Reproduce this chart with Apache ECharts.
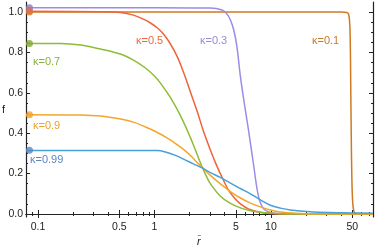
<!DOCTYPE html>
<html><head><meta charset="utf-8">
<script src="https://cdn.jsdelivr.net/npm/echarts@6/dist/echarts.min.js"></script>
<style>html,body{margin:0;padding:0;background:#fff}#c{width:377px;height:252px}</style>
</head><body><div id="c"></div>
<script>
// ---- data (r̄, f) ----
const kappaLabels = ['κ=0.1','κ=0.3','κ=0.5','κ=0.7','κ=0.9','κ=0.99'];
const k01 = [[0.079,1.0],[1,1.0],[10,1.0],[40,1.0],[45,0.998],[46.3,0.99],[47.2,0.965],[47.9,0.88],[48.4,0.65],[48.9,0.4],[49.5,0.18],[50.2,0.07],[51.2,0.02],[52.7,0.004],[56,0.001],[75,0.0]];
const k03 = [[0.079,1.022],[1,1.022],[3.0,1.02],[3.8,1.01],[4.2,0.99],[4.5,0.96],[4.8,0.91],[5.1,0.83],[5.47,0.68],[5.9,0.55],[6.4,0.42],[7.07,0.25],[7.8,0.09],[8.6,0.028],[9.9,0.008],[12,0.002],[20,0.0],[75,0.0]];
const k05 = [[0.079,1.004],[0.344,1.002],[0.511,0.998],[0.66,0.985],[0.804,0.965],[0.924,0.946],[1.061,0.921],[1.195,0.891],[1.372,0.842],[1.576,0.777],[1.773,0.703],[2.036,0.604],[2.337,0.505],[2.631,0.411],[3.021,0.317],[3.40,0.243],[3.83,0.178],[4.31,0.119],[4.86,0.079],[5.47,0.05],[6.41,0.025],[7.81,0.01],[9.89,0.0025],[15,0.0],[75,0.0]];
const k07 = [[0.079,0.845],[0.156,0.845],[0.232,0.837],[0.344,0.817],[0.511,0.792],[0.66,0.762],[0.837,0.723],[1.0,0.683],[1.126,0.648],[1.372,0.576],[1.671,0.487],[2.036,0.378],[2.294,0.303],[2.567,0.233],[2.795,0.186],[3.021,0.150],[3.683,0.088],[4.491,0.052],[5.47,0.030],[6.66,0.016],[8.12,0.009],[10.9,0.0025],[16,0.0],[75,0.0]];
const k09 = [[0.079,0.492],[0.232,0.49],[0.344,0.485],[0.511,0.47],[0.66,0.455],[0.837,0.431],[1.0,0.411],[1.293,0.376],[1.515,0.349],[1.773,0.32],[2.036,0.29],[2.294,0.259],[2.567,0.231],[3.021,0.191],[3.683,0.149],[4.491,0.111],[5.47,0.079],[6.66,0.054],[8.12,0.035],[9.89,0.02],[12.05,0.01],[16.2,0.003],[25,0.0],[75,0.0]];
const k099 = [[0.079,0.314],[0.5,0.314],[1.061,0.314],[1.243,0.307],[1.515,0.29],[1.846,0.267],[2.162,0.248],[2.567,0.228],[3.021,0.205],[3.683,0.181],[4.491,0.153],[5.47,0.126],[6.66,0.10],[8.12,0.07],[9.89,0.043],[12.05,0.029],[14.68,0.02],[21.8,0.011],[32.4,0.007],[48,0.005],[75,0.003]];
const startDots = [[0.0845,1.0],[0.0845,1.022],[0.0845,1.005],[0.0845,0.845],[0.0845,0.492],[0.0845,0.316]];
const xMajorTicks = [0.1,0.5,1,5,10,50];
const xMinorTicks = [0.08,0.09,0.2,0.3,0.4,0.6,0.7,0.8,0.9,2,3,4,6,7,8,9,20,30,40,60,70];
const yMajorTicks = [0,0.2,0.4,0.6,0.8,1.0];
const yMinorTicks = [0.05,0.1,0.15,0.25,0.3,0.35,0.45,0.5,0.55,0.65,0.7,0.75,0.85,0.9,0.95];
const xName = 'r\u0304';
const yName = 'f';

const lineColors = ['#cf7a22','#9d8be6','#ef643a','#8dbd35','#f4a62b','#46a0dc'];
const dotColors  = ['#d9822a','#8a7bc6','#e5703e','#7fa830','#eda12f','#5a86c0'];
const labelColors = ['#c9782a','#9a8ad8','#ec6a40','#8ab23a','#eba12e','#5b86c6'];
const seriesData = [k01,k03,k05,k07,k09,k099];

const X_MIN = 0.0789, X_MAX = 75.2, Y_MIN = -0.015, Y_MAX = 1.05;
const frame = {show:true, lineStyle:{color:'#222', width:1.2}};
const tickFont = {fontFamily:'Liberation Sans', fontSize:10.5, color:'#222'};

function xAx(pos, vals, len, labels, line){
  return {type:'log', logBase:10, position:pos, min:X_MIN, max:X_MAX, gridIndex:0,
    axisLine: line ? frame : {show:false},
    axisTick:{show:true, inside:true, length:len, customValues:vals, lineStyle:{color:'#222', width:1}},
    minorTick:{show:false}, splitLine:{show:false},
    axisLabel: labels ? Object.assign({show:true, margin:5, customValues:vals, formatter:v=>String(+Number(v).toPrecision(3))}, tickFont) : {show:false}};
}
function yAx(pos, vals, len, labels, line){
  return {type:'value', position:pos, min:Y_MIN, max:Y_MAX, gridIndex:0,
    axisLine: line ? frame : {show:false},
    axisTick:{show:true, inside:true, length:len, customValues:vals, lineStyle:{color:'#222', width:1}},
    minorTick:{show:false}, splitLine:{show:false},
    axisLabel: labels ? Object.assign({show:true, margin:3, customValues:vals, formatter:v=>Number(v).toFixed(1)}, tickFont) : {show:false}};
}

const series = [];
seriesData.forEach((d,i)=>{
  series.push({type:'line', data:d, xAxisIndex:0, yAxisIndex:0, showSymbol:false, smooth:0.35,
    sampling:null, lineStyle:{color:lineColors[i], width:1.5}, itemStyle:{color:lineColors[i]}, silent:true, z:2+i, animation:false, clip:true});
});
series.push({type:'scatter', data:startDots, xAxisIndex:0, yAxisIndex:0, symbol:'circle', symbolSize:7,
  itemStyle:{color:(p)=>dotColors[p.dataIndex]}, z:20, animation:false, clip:false});

const lblPos = [[312,42],[200,42],[136,42],[33,63],[33,127],[30,161]];
const graphics = kappaLabels.map((t,i)=>({type:'text', left:lblPos[i][0], top:lblPos[i][1]-7,
  style:{text:t, fill:labelColors[i], font:'11px "Liberation Sans"'}}));
graphics.push({type:'text', left:2, top:104, style:{text:yName, fill:'#222', font:'11px "Liberation Sans"'}});
graphics.push({type:'text', left:197, top:236, style:{text:xName, fill:'#222', font:'italic 11px "Liberation Sans"'}});

const chart = echarts.init(document.getElementById('c'), null, {renderer:'canvas'});
chart.setOption({
  animation:false,
  backgroundColor:'#fff',
  grid:{left:26, right:4, top:2, bottom:35, containLabel:false},
  xAxis:[xAx('bottom',xMajorTicks,4,true,true), xAx('bottom',xMinorTicks,2,false,false),
         xAx('top',xMajorTicks,4,false,true), xAx('top',xMinorTicks,2,false,false)],
  yAxis:[yAx('left',yMajorTicks,4,true,true), yAx('left',yMinorTicks,2,false,false),
         yAx('right',yMajorTicks,4,false,true), yAx('right',yMinorTicks,2,false,false)],
  series: series,
  graphic: graphics
});
</script></body></html>
